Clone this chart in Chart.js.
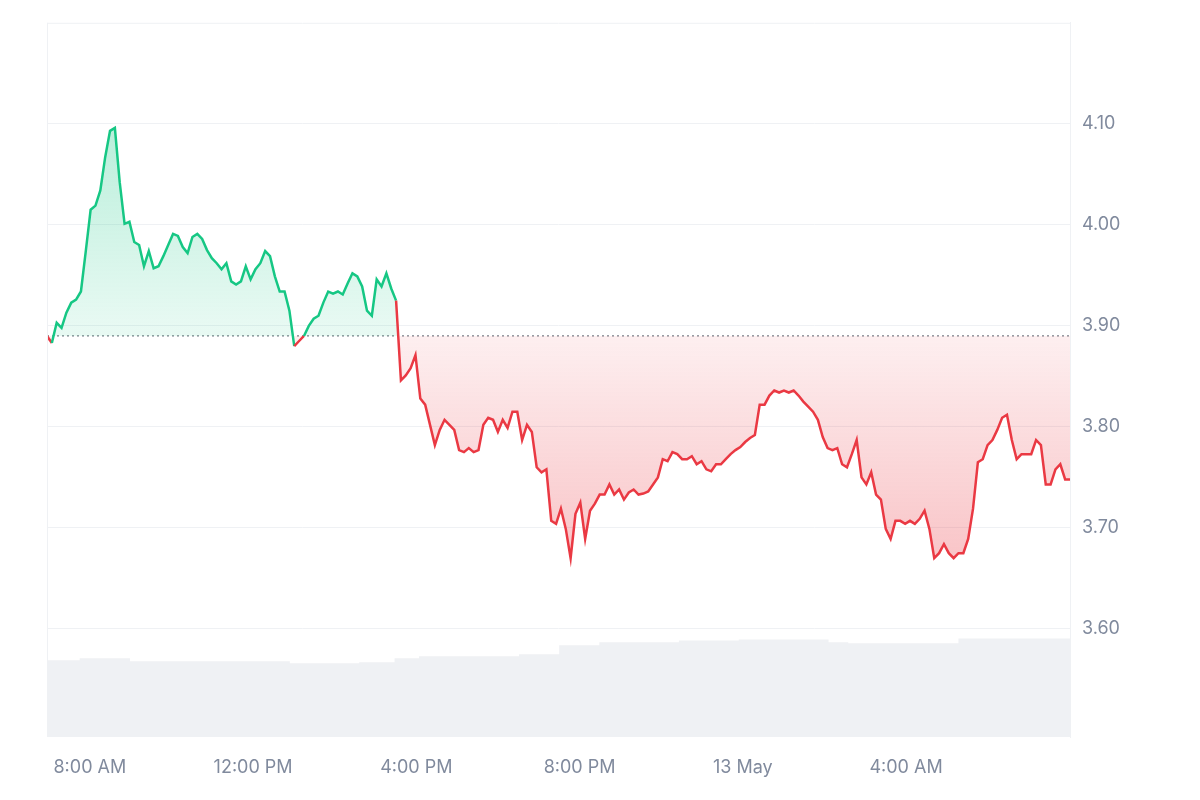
<!DOCTYPE html>
<html>
<head>
<meta charset="utf-8">
<script src="https://cdn.jsdelivr.net/npm/chart.js@4"></script>
<style>
  body { margin: 0; background: #fff; }
  canvas { display: block; }
</style>
</head>
<body>
<canvas id="chart" width="1200" height="800"></canvas>
<script>
// price samples, evenly spaced from 6:57 AM (12 May) to 8:01 AM (13 May)
const startMin = 417;
const endMin = 1921;
const baseline = 3.89;
const prices = [
  3.890, 3.883, 3.903, 3.898, 3.913, 3.923, 3.926, 3.934, 3.974, 4.015, 4.019, 4.034, 4.067, 4.093, 4.096, 4.042,
  4.001, 4.003, 3.983, 3.980, 3.959, 3.974, 3.957, 3.959, 3.969, 3.980, 3.991, 3.989, 3.978, 3.972, 3.988, 3.991,
  3.986, 3.975, 3.967, 3.962, 3.956, 3.962, 3.944, 3.941, 3.944, 3.959, 3.946, 3.956, 3.962, 3.974, 3.969, 3.949,
  3.934, 3.934, 3.915, 3.880, 3.885, 3.890, 3.900, 3.907, 3.910, 3.923, 3.934, 3.932, 3.934, 3.931, 3.942, 3.952,
  3.949, 3.939, 3.915, 3.910, 3.946, 3.939, 3.952, 3.937, 3.925, 3.846, 3.851, 3.858, 3.871, 3.828, 3.822, 3.802,
  3.782, 3.797, 3.807, 3.802, 3.797, 3.777, 3.775, 3.779, 3.775, 3.777, 3.802, 3.809, 3.807, 3.795, 3.807, 3.799,
  3.815, 3.815, 3.787, 3.802, 3.795, 3.760, 3.755, 3.758, 3.707, 3.704, 3.719, 3.699, 3.670, 3.714, 3.725, 3.689,
  3.717, 3.724, 3.733, 3.733, 3.743, 3.733, 3.738, 3.728, 3.735, 3.738, 3.733, 3.734, 3.736, 3.743, 3.750, 3.768,
  3.766, 3.775, 3.773, 3.768, 3.768, 3.771, 3.763, 3.766, 3.758, 3.756, 3.763, 3.763, 3.768, 3.773, 3.777, 3.780,
  3.785, 3.789, 3.792, 3.822, 3.822, 3.831, 3.836, 3.834, 3.836, 3.834, 3.836, 3.831, 3.825, 3.820, 3.815, 3.807,
  3.790, 3.779, 3.777, 3.779, 3.763, 3.760, 3.773, 3.787, 3.750, 3.743, 3.755, 3.733, 3.728, 3.699, 3.689, 3.707,
  3.707, 3.704, 3.707, 3.704, 3.709, 3.717, 3.699, 3.670, 3.675, 3.684, 3.675, 3.670, 3.675, 3.675, 3.689, 3.719,
  3.765, 3.768, 3.782, 3.787, 3.797, 3.809, 3.812, 3.787, 3.768, 3.773, 3.773, 3.773, 3.787, 3.782, 3.743, 3.743,
  3.758, 3.763, 3.748, 3.748
];
// volume (millions), stepped by time in minutes
const volTimes = [417, 465, 539, 774, 876, 928, 964, 1111, 1170, 1229, 1346, 1434, 1566, 1595, 1757, 1921];
const volumes = [7.7, 7.9, 7.6, 7.4, 7.5, 7.9, 8.1, 8.3, 9.2, 9.5, 9.7, 9.8, 9.5, 9.4, 9.9, 9.9];
const xTicks = [480, 720, 960, 1200, 1440, 1680];
const xTickLabels = ['8:00 AM', '12:00 PM', '4:00 PM', '8:00 PM', '13 May', '4:00 AM'];
const yTicks = [3.6, 3.7, 3.8, 3.9, 4.0, 4.1];

const GREEN = '#16c784';
const RED = '#ea3943';
const GREY = '#808a9d';

const step = (endMin - startMin) / (prices.length - 1);
const pricePts = prices.map((v, i) => ({ x: startMin + i * step, y: v }));
const volPts = volTimes.map((t, i) => ({ x: t, y: volumes[i] }));

const canvas = document.getElementById('chart');
const g = canvas.getContext('2d');
const greenFill = g.createLinearGradient(0, 120, 0, 325);
greenFill.addColorStop(0, 'rgba(22,199,132,0.30)');
greenFill.addColorStop(1, 'rgba(22,199,132,0.10)');
const redFill = g.createLinearGradient(0, 325, 0, 565);
redFill.addColorStop(0, 'rgba(234,57,67,0.07)');
redFill.addColorStop(1, 'rgba(234,57,67,0.30)');

const baselinePlugin = {
  id: 'baseline',
  beforeDatasetsDraw(chart) {
    const { ctx, chartArea, scales } = chart;
    const y = scales.y.getPixelForValue(baseline);
    ctx.save();
    ctx.strokeStyle = '#7a7f88';
    ctx.lineWidth = 1.2;
    ctx.setLineDash([2, 3]);
    ctx.beginPath();
    ctx.moveTo(chartArea.left, y);
    ctx.lineTo(chartArea.right, y);
    ctx.stroke();
    ctx.restore();
  }
};

new Chart(canvas, {
  type: 'line',
  data: {
    datasets: [
      {
        data: pricePts,
        yAxisID: 'y',
        borderWidth: 2.5,
        pointRadius: 0,
        tension: 0,
        borderColor: GREEN,
        segment: {
          borderColor: c => (c.p0.parsed.y + c.p1.parsed.y) / 2 >= baseline ? GREEN : RED
        },
        fill: { target: { value: baseline }, above: greenFill, below: redFill },
        order: 1
      },
      {
        data: volPts,
        yAxisID: 'vol',
        stepped: 'before',
        borderWidth: 0,
        pointRadius: 0,
        backgroundColor: '#eff1f4',
        fill: 'origin',
        order: 2
      }
    ]
  },
  options: {
    responsive: false,
    animation: false,
    layout: { padding: { left: 47, top: 20, right: 0, bottom: 0 } },
    plugins: { legend: { display: false }, tooltip: { enabled: false } },
    scales: {
      x: {
        type: 'linear',
        min: startMin,
        max: endMin,
        afterBuildTicks: s => { s.ticks = xTicks.map(v => ({ value: v })); },
        afterFit: s => { s.height = 63; },
        grid: { display: false },
        border: { display: false },
        ticks: {
          color: GREY,
          font: { family: 'Inter, sans-serif', size: 18 },
          padding: 12,
          maxRotation: 0,
          autoSkip: false,
          callback: v => xTickLabels[xTicks.indexOf(v)]
        }
      },
      y: {
        position: 'right',
        min: 3.493,
        max: 4.2,
        afterBuildTicks: s => { s.ticks = yTicks.map(v => ({ value: v })); },
        afterFit: s => { s.width = 130; },
        grid: { color: '#eff1f4', drawTicks: false },
        border: { display: true, color: '#eff1f4' },
        ticks: {
          color: GREY,
          font: { family: 'Inter, sans-serif', size: 18 },
          padding: 12,
          callback: v => v.toFixed(2)
        }
      },
      vol: {
        display: false,
        min: 0,
        max: 71.7
      }
    }
  },
  plugins: [baselinePlugin, {
    id: 'frame',
    afterDraw(chart) {
      const { ctx, chartArea } = chart;
      ctx.save();
      ctx.strokeStyle = '#eff1f4';
      ctx.lineWidth = 1;
      ctx.beginPath();
      ctx.moveTo(chartArea.left, chartArea.top + 0.5);
      ctx.lineTo(chartArea.right, chartArea.top + 0.5);
      ctx.moveTo(chartArea.left + 0.5, chartArea.top);
      ctx.lineTo(chartArea.left + 0.5, chartArea.bottom);
      ctx.stroke();
      ctx.restore();
    }
  }]
});
</script>
</body>
</html>
